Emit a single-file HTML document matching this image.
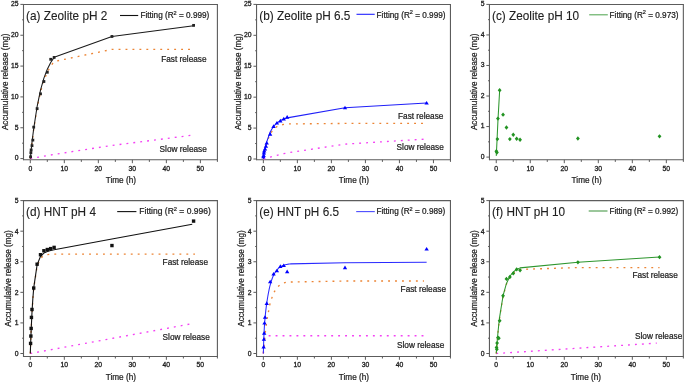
<!DOCTYPE html>
<html><head><meta charset="utf-8"><style>
html,body{margin:0;padding:0;background:#fff;}
svg{display:block;will-change:transform;}
text{font-family:"Liberation Sans", sans-serif;fill:#202020;stroke:#202020;stroke-width:0.22px;paint-order:stroke;}
</style></head><body>
<svg width="685" height="383" viewBox="0 0 685 383">
<path d="M23.5 4.4H217.4M23.5 159.8H217.4" stroke="#5c5c5c" stroke-width="1.05" fill="none"/>
<path d="M23.5 3.9V160.3M217.4 3.9V160.3" stroke="#5c5c5c" stroke-width="1.1" fill="none"/>
<path d="M20.4 158.6H23.5M20.4 127.76H23.5M20.4 96.92H23.5M20.4 66.08H23.5M20.4 35.24H23.5M20.4 4.4H23.5M22.1 143.18H23.5M22.1 112.34H23.5M22.1 81.5H23.5M22.1 50.66H23.5M22.1 19.82H23.5M30.3 159.8V163.2M64.32 159.8V163.2M98.34 159.8V163.2M132.36 159.8V163.2M166.37 159.8V163.2M200.39 159.8V163.2M47.31 159.8V161.9M81.33 159.8V161.9M115.35 159.8V161.9M149.36 159.8V161.9M183.38 159.8V161.9M217.4 159.8V161.9" stroke="#5c5c5c" stroke-width="1" fill="none"/>
<text x="18.5" y="160.45" font-size="6.8" text-anchor="end" style="stroke-width:0.3px">0</text>
<text x="18.5" y="129.61" font-size="6.8" text-anchor="end" style="stroke-width:0.3px">5</text>
<text x="18.5" y="98.77" font-size="6.8" text-anchor="end" style="stroke-width:0.3px">10</text>
<text x="18.5" y="67.93" font-size="6.8" text-anchor="end" style="stroke-width:0.3px">15</text>
<text x="18.5" y="37.09" font-size="6.8" text-anchor="end" style="stroke-width:0.3px">20</text>
<text x="18.5" y="6.25" font-size="6.8" text-anchor="end" style="stroke-width:0.3px">25</text>
<text x="30.3" y="170.6" font-size="6.8" text-anchor="middle" style="stroke-width:0.3px">0</text>
<text x="64.32" y="170.6" font-size="6.8" text-anchor="middle" style="stroke-width:0.3px">10</text>
<text x="98.34" y="170.6" font-size="6.8" text-anchor="middle" style="stroke-width:0.3px">20</text>
<text x="132.36" y="170.6" font-size="6.8" text-anchor="middle" style="stroke-width:0.3px">30</text>
<text x="166.37" y="170.6" font-size="6.8" text-anchor="middle" style="stroke-width:0.3px">40</text>
<text x="200.39" y="170.6" font-size="6.8" text-anchor="middle" style="stroke-width:0.3px">50</text>
<text x="120.85" y="183" font-size="8.2" text-anchor="middle">Time (h)</text>
<text transform="translate(8 81.8) rotate(-90)" font-size="8.35" text-anchor="middle" textLength="96.6" lengthAdjust="spacingAndGlyphs">Accumulative release (mg)</text>
<path d="M30.3 158.6 L30.59 158.55 L30.87 158.5 L31.15 158.45 L32 158.29 L32.85 158.14 L33.71 157.99 L37.11 157.38 L40.51 156.78 L43.91 156.18 L47.31 155.59 L50.71 155.01 L54.12 154.43 L111.95 145.44 L190.87 135.39" stroke="#f440f4" stroke-width="1.35" fill="none" stroke-linejoin="round" stroke-dasharray="1.9 5.05"/>
<path d="M30.3 158.6 L30.59 155.8 L30.87 153.03 L31.15 150.37 L32 142.77 L32.85 135.73 L33.71 129.23 L37.11 107.75 L40.51 92.04 L43.91 80.55 L47.31 72.16 L50.71 66.01 L54.12 61.52 L111.95 49.36 L190.87 49.3" stroke="#ec8434" stroke-width="1.35" fill="none" stroke-linejoin="round" stroke-dasharray="1.9 5.05"/>
<path d="M30.3 158.6 L30.59 155.75 L30.87 152.93 L31.15 150.22 L32 142.46 L32.85 135.27 L33.71 128.61 L37.11 106.53 L40.51 90.22 L43.91 78.14 L47.31 69.15 L50.71 62.42 L54.12 57.35 L111.95 36.47 L193.59 25.68" stroke="#1a1a1a" stroke-width="1.05" fill="none" stroke-linejoin="round"/>
<rect x="29.19" y="155.35" width="2.8" height="2.8" fill="#222"/>
<rect x="29.47" y="151.34" width="2.8" height="2.8" fill="#222"/>
<rect x="29.75" y="148.56" width="2.8" height="2.8" fill="#222"/>
<rect x="30.6" y="144.25" width="2.8" height="2.8" fill="#222"/>
<rect x="31.45" y="138.7" width="2.8" height="2.8" fill="#222"/>
<rect x="32.31" y="125.74" width="2.8" height="2.8" fill="#222"/>
<rect x="35.71" y="107.24" width="2.8" height="2.8" fill="#222"/>
<rect x="39.11" y="92.44" width="2.8" height="2.8" fill="#222"/>
<rect x="42.51" y="80.1" width="2.8" height="2.8" fill="#222"/>
<rect x="45.91" y="70.85" width="2.8" height="2.8" fill="#222"/>
<rect x="49.31" y="57.9" width="2.8" height="2.8" fill="#222"/>
<rect x="52.72" y="56.04" width="2.8" height="2.8" fill="#222"/>
<rect x="110.55" y="35.07" width="2.8" height="2.8" fill="#222"/>
<rect x="192.19" y="23.97" width="2.8" height="2.8" fill="#222"/>
<text transform="translate(26.1 19.6) scale(1 1.06)" font-size="11.8" style="stroke-width:0.1px">(a) Zeolite pH 2</text>
<path d="M120 15.5H138.2" stroke="#111" stroke-width="1.1"/>
<text x="140.4" y="17.9" font-size="8.2">Fitting (R<tspan font-size="5.58" dy="-3.3">2</tspan><tspan dy="3.3"> = 0.999)</tspan></text>
<text x="161.2" y="62.3" font-size="8.25">Fast release</text>
<text x="159.6" y="151.9" font-size="8.25">Slow release</text>
<path d="M256.55 4.4H450.45M256.55 159.8H450.45" stroke="#5c5c5c" stroke-width="1.05" fill="none"/>
<path d="M256.55 3.9V160.3M450.45 3.9V160.3" stroke="#5c5c5c" stroke-width="1.1" fill="none"/>
<path d="M253.45 159H256.55M253.45 128.08H256.55M253.45 97.16H256.55M253.45 66.24H256.55M253.45 35.32H256.55M253.45 4.4H256.55M255.15 143.54H256.55M255.15 112.62H256.55M255.15 81.7H256.55M255.15 50.78H256.55M255.15 19.86H256.55M263.35 159.8V163.2M297.37 159.8V163.2M331.39 159.8V163.2M365.41 159.8V163.2M399.42 159.8V163.2M433.44 159.8V163.2M280.36 159.8V161.9M314.38 159.8V161.9M348.4 159.8V161.9M382.41 159.8V161.9M416.43 159.8V161.9M450.45 159.8V161.9" stroke="#5c5c5c" stroke-width="1" fill="none"/>
<text x="251.55" y="160.85" font-size="6.8" text-anchor="end" style="stroke-width:0.3px">0</text>
<text x="251.55" y="129.93" font-size="6.8" text-anchor="end" style="stroke-width:0.3px">5</text>
<text x="251.55" y="99.01" font-size="6.8" text-anchor="end" style="stroke-width:0.3px">10</text>
<text x="251.55" y="68.09" font-size="6.8" text-anchor="end" style="stroke-width:0.3px">15</text>
<text x="251.55" y="37.17" font-size="6.8" text-anchor="end" style="stroke-width:0.3px">20</text>
<text x="251.55" y="6.25" font-size="6.8" text-anchor="end" style="stroke-width:0.3px">25</text>
<text x="263.35" y="170.6" font-size="6.8" text-anchor="middle" style="stroke-width:0.3px">0</text>
<text x="297.37" y="170.6" font-size="6.8" text-anchor="middle" style="stroke-width:0.3px">10</text>
<text x="331.39" y="170.6" font-size="6.8" text-anchor="middle" style="stroke-width:0.3px">20</text>
<text x="365.41" y="170.6" font-size="6.8" text-anchor="middle" style="stroke-width:0.3px">30</text>
<text x="399.42" y="170.6" font-size="6.8" text-anchor="middle" style="stroke-width:0.3px">40</text>
<text x="433.44" y="170.6" font-size="6.8" text-anchor="middle" style="stroke-width:0.3px">50</text>
<text x="353.9" y="183" font-size="8.2" text-anchor="middle">Time (h)</text>
<text transform="translate(241.05 81.8) rotate(-90)" font-size="8.35" text-anchor="middle" textLength="96.6" lengthAdjust="spacingAndGlyphs">Accumulative release (mg)</text>
<path d="M263.35 159 L263.64 158.92 L263.92 158.83 L264.2 158.75 L265.05 158.5 L265.9 158.25 L266.76 158.01 L270.16 157.06 L273.56 156.16 L276.96 155.29 L280.36 154.46 L283.76 153.67 L287.17 152.92 L345 144.13 L423.92 139.18" stroke="#f440f4" stroke-width="1.35" fill="none" stroke-linejoin="round" stroke-dasharray="1.9 5.05"/>
<path d="M263.35 159 L263.64 157.24 L263.92 155.56 L264.2 153.97 L265.05 149.65 L265.9 145.95 L266.76 142.76 L270.16 133.94 L273.56 129.15 L276.96 126.54 L280.36 125.13 L283.76 124.36 L287.17 123.94 L345 123.44 L423.92 123.44" stroke="#ec8434" stroke-width="1.35" fill="none" stroke-linejoin="round" stroke-dasharray="1.9 5.05"/>
<path d="M263.35 159 L263.64 157.16 L263.92 155.39 L264.2 153.72 L265.05 149.15 L265.9 145.2 L266.76 141.77 L270.16 132 L273.56 126.3 L276.96 122.83 L280.36 120.59 L283.76 119.03 L287.17 117.86 L345 107.67 L426.64 103.03" stroke="#2020f8" stroke-width="1.05" fill="none" stroke-linejoin="round"/>
<path d="M263.35 154.73L265.51 158.33L261.19 158.33Z" fill="#0000ff"/>
<path d="M263.64 153.31L265.8 156.91L261.48 156.91Z" fill="#0000ff"/>
<path d="M263.92 150.84L266.08 154.44L261.76 154.44Z" fill="#0000ff"/>
<path d="M264.2 148.98L266.36 152.58L262.04 152.58Z" fill="#0000ff"/>
<path d="M265.05 146.82L267.21 150.42L262.89 150.42Z" fill="#0000ff"/>
<path d="M265.9 144.03L268.06 147.63L263.74 147.63Z" fill="#0000ff"/>
<path d="M266.76 140.94L268.92 144.54L264.6 144.54Z" fill="#0000ff"/>
<path d="M270.16 132.1L272.32 135.7L268 135.7Z" fill="#0000ff"/>
<path d="M273.56 124.31L275.72 127.91L271.4 127.91Z" fill="#0000ff"/>
<path d="M276.96 120.91L279.12 124.51L274.8 124.51Z" fill="#0000ff"/>
<path d="M280.36 118.8L282.52 122.4L278.2 122.4Z" fill="#0000ff"/>
<path d="M283.76 116.82L285.92 120.42L281.6 120.42Z" fill="#0000ff"/>
<path d="M287.17 115.09L289.33 118.69L285.01 118.69Z" fill="#0000ff"/>
<path d="M345 105.69L347.16 109.29L342.84 109.29Z" fill="#0000ff"/>
<path d="M426.64 100.93L428.8 104.53L424.48 104.53Z" fill="#0000ff"/>
<text transform="translate(259.35 19.6) scale(1 1.06)" font-size="11.8" style="stroke-width:0.1px">(b) Zeolite pH 6.5</text>
<path d="M356.5 14.3H374.7" stroke="#2020ff" stroke-width="1.1"/>
<text x="376.6" y="17.6" font-size="8.2">Fitting (R<tspan font-size="5.58" dy="-3.3">2</tspan><tspan dy="3.3"> = 0.999)</tspan></text>
<text x="398" y="119.4" font-size="8.25">Fast release</text>
<text x="396.6" y="150" font-size="8.25">Slow release</text>
<path d="M489.45 4.4H683.35M489.45 159.8H683.35" stroke="#5c5c5c" stroke-width="1.05" fill="none"/>
<path d="M489.45 3.9V160.3M683.35 3.9V160.3" stroke="#5c5c5c" stroke-width="1.1" fill="none"/>
<path d="M486.35 157.1H489.45M486.35 126.56H489.45M486.35 96.02H489.45M486.35 65.48H489.45M486.35 34.94H489.45M486.35 4.4H489.45M488.05 141.83H489.45M488.05 111.29H489.45M488.05 80.75H489.45M488.05 50.21H489.45M488.05 19.67H489.45M496.25 159.8V163.2M530.27 159.8V163.2M564.29 159.8V163.2M598.31 159.8V163.2M632.32 159.8V163.2M666.34 159.8V163.2M513.26 159.8V161.9M547.28 159.8V161.9M581.3 159.8V161.9M615.31 159.8V161.9M649.33 159.8V161.9M683.35 159.8V161.9" stroke="#5c5c5c" stroke-width="1" fill="none"/>
<text x="484.45" y="158.95" font-size="6.8" text-anchor="end" style="stroke-width:0.3px">0</text>
<text x="484.45" y="128.41" font-size="6.8" text-anchor="end" style="stroke-width:0.3px">1</text>
<text x="484.45" y="97.87" font-size="6.8" text-anchor="end" style="stroke-width:0.3px">2</text>
<text x="484.45" y="67.33" font-size="6.8" text-anchor="end" style="stroke-width:0.3px">3</text>
<text x="484.45" y="36.79" font-size="6.8" text-anchor="end" style="stroke-width:0.3px">4</text>
<text x="484.45" y="6.25" font-size="6.8" text-anchor="end" style="stroke-width:0.3px">5</text>
<text x="496.25" y="170.6" font-size="6.8" text-anchor="middle" style="stroke-width:0.3px">0</text>
<text x="530.27" y="170.6" font-size="6.8" text-anchor="middle" style="stroke-width:0.3px">10</text>
<text x="564.29" y="170.6" font-size="6.8" text-anchor="middle" style="stroke-width:0.3px">20</text>
<text x="598.31" y="170.6" font-size="6.8" text-anchor="middle" style="stroke-width:0.3px">30</text>
<text x="632.32" y="170.6" font-size="6.8" text-anchor="middle" style="stroke-width:0.3px">40</text>
<text x="666.34" y="170.6" font-size="6.8" text-anchor="middle" style="stroke-width:0.3px">50</text>
<text x="586.7" y="183" font-size="8.2" text-anchor="middle">Time (h)</text>
<text transform="translate(476.85 81.8) rotate(-90)" font-size="8.35" text-anchor="middle" textLength="96.6" lengthAdjust="spacingAndGlyphs">Accumulative release (mg)</text>
<path d="M496.25 155.88 L496.54 150.38 L497.1 138.78 L497.95 120.45 L499.66 90.22" stroke="#2e962e" stroke-width="1.05" fill="none" stroke-linejoin="round"/>
<path d="M496.36 149.11L498.26 151.3L496.36 153.48L494.46 151.3Z" fill="#229322"/>
<path d="M496.93 150.33L498.83 152.52L496.93 154.7L495.03 152.52Z" fill="#229322"/>
<path d="M497.38 136.9L499.28 139.08L497.38 141.27L495.48 139.08Z" fill="#229322"/>
<path d="M497.95 116.43L499.85 118.62L497.95 120.8L496.05 118.62Z" fill="#229322"/>
<path d="M499.66 88.03L501.56 90.22L499.66 92.4L497.76 90.22Z" fill="#229322"/>
<path d="M503.06 112.46L504.96 114.65L503.06 116.83L501.16 114.65Z" fill="#229322"/>
<path d="M506.46 125.29L508.36 127.48L506.46 129.66L504.56 127.48Z" fill="#229322"/>
<path d="M509.86 136.9L511.76 139.08L509.86 141.27L507.96 139.08Z" fill="#229322"/>
<path d="M513.26 132.62L515.16 134.81L513.26 136.99L511.36 134.81Z" fill="#229322"/>
<path d="M516.66 136.59L518.56 138.78L516.66 140.96L514.76 138.78Z" fill="#229322"/>
<path d="M520.07 137.51L521.97 139.69L520.07 141.88L518.17 139.69Z" fill="#229322"/>
<path d="M577.9 136.29L579.8 138.47L577.9 140.66L576 138.47Z" fill="#229322"/>
<path d="M659.54 134.15L661.44 136.33L659.54 138.52L657.64 136.33Z" fill="#229322"/>
<text transform="translate(492.05 19.6) scale(1 1.06)" font-size="11.8" style="stroke-width:0.1px">(c) Zeolite pH 10</text>
<path d="M589.2 14.8H607.8" stroke="#5aaa5a" stroke-width="1.1"/>
<text x="609.6" y="17.6" font-size="8.2">Fitting (R<tspan font-size="5.58" dy="-3.3">2</tspan><tspan dy="3.3"> = 0.973)</tspan></text>
<path d="M23.5 200.6H217.4M23.5 356.4H217.4" stroke="#5c5c5c" stroke-width="1.05" fill="none"/>
<path d="M23.5 200.1V356.9M217.4 200.1V356.9" stroke="#5c5c5c" stroke-width="1.1" fill="none"/>
<path d="M20.4 353.5H23.5M20.4 322.92H23.5M20.4 292.34H23.5M20.4 261.76H23.5M20.4 231.18H23.5M20.4 200.6H23.5M22.1 338.21H23.5M22.1 307.63H23.5M22.1 277.05H23.5M22.1 246.47H23.5M22.1 215.89H23.5M30.3 356.4V359.8M64.32 356.4V359.8M98.34 356.4V359.8M132.36 356.4V359.8M166.37 356.4V359.8M200.39 356.4V359.8M47.31 356.4V358.5M81.33 356.4V358.5M115.35 356.4V358.5M149.36 356.4V358.5M183.38 356.4V358.5M217.4 356.4V358.5" stroke="#5c5c5c" stroke-width="1" fill="none"/>
<text x="18.5" y="355.9" font-size="6.8" text-anchor="end" style="stroke-width:0.3px">0</text>
<text x="18.5" y="325.32" font-size="6.8" text-anchor="end" style="stroke-width:0.3px">1</text>
<text x="18.5" y="294.74" font-size="6.8" text-anchor="end" style="stroke-width:0.3px">2</text>
<text x="18.5" y="264.16" font-size="6.8" text-anchor="end" style="stroke-width:0.3px">3</text>
<text x="18.5" y="233.58" font-size="6.8" text-anchor="end" style="stroke-width:0.3px">4</text>
<text x="18.5" y="203" font-size="6.8" text-anchor="end" style="stroke-width:0.3px">5</text>
<text x="30.3" y="367.2" font-size="6.8" text-anchor="middle" style="stroke-width:0.3px">0</text>
<text x="64.32" y="367.2" font-size="6.8" text-anchor="middle" style="stroke-width:0.3px">10</text>
<text x="98.34" y="367.2" font-size="6.8" text-anchor="middle" style="stroke-width:0.3px">20</text>
<text x="132.36" y="367.2" font-size="6.8" text-anchor="middle" style="stroke-width:0.3px">30</text>
<text x="166.37" y="367.2" font-size="6.8" text-anchor="middle" style="stroke-width:0.3px">40</text>
<text x="200.39" y="367.2" font-size="6.8" text-anchor="middle" style="stroke-width:0.3px">50</text>
<text x="120.85" y="379.6" font-size="8.2" text-anchor="middle">Time (h)</text>
<text transform="translate(10.9 278.5) rotate(-90)" font-size="8.35" text-anchor="middle" textLength="96.6" lengthAdjust="spacingAndGlyphs">Accumulative release (mg)</text>
<path d="M30.3 353.5 L30.59 353.45 L30.87 353.4 L31.15 353.34 L32 353.19 L32.85 353.03 L33.71 352.87 L37.11 352.25 L40.51 351.62 L43.91 350.99 L47.31 350.37 L50.71 349.74 L54.12 349.11 L111.95 338.45 L190.87 323.91" stroke="#f440f4" stroke-width="1.35" fill="none" stroke-linejoin="round" stroke-dasharray="1.9 5.05"/>
<path d="M30.3 353.5 L30.59 345.13 L30.87 337.38 L31.15 330.36 L32 312.61 L32.85 299 L33.71 288.55 L37.11 266.04 L40.51 258.25 L43.91 255.55 L47.31 254.61 L50.71 254.29 L54.12 254.17 L111.95 254.12 L194.95 254.12" stroke="#ec8434" stroke-width="1.35" fill="none" stroke-linejoin="round" stroke-dasharray="1.9 5.05"/>
<path d="M30.3 353.5 L30.59 345.08 L30.87 337.27 L31.15 330.21 L32 312.3 L32.85 298.53 L33.71 287.92 L37.11 264.79 L40.51 256.37 L43.91 253.04 L47.31 251.48 L50.71 250.53 L54.12 249.79 L111.95 239.07 L192.23 224.28" stroke="#111" stroke-width="1.1" fill="none" stroke-linejoin="round"/>
<rect x="28.89" y="341.71" width="3.4" height="3.4" fill="#111"/>
<rect x="29.17" y="334.37" width="3.4" height="3.4" fill="#111"/>
<rect x="29.45" y="326.72" width="3.4" height="3.4" fill="#111"/>
<rect x="29.74" y="315.72" width="3.4" height="3.4" fill="#111"/>
<rect x="30.3" y="307.76" width="3.4" height="3.4" fill="#111"/>
<rect x="32.01" y="286.36" width="3.4" height="3.4" fill="#111"/>
<rect x="35.41" y="262.51" width="3.4" height="3.4" fill="#111"/>
<rect x="38.81" y="253.03" width="3.4" height="3.4" fill="#111"/>
<rect x="42.21" y="249.05" width="3.4" height="3.4" fill="#111"/>
<rect x="45.61" y="247.83" width="3.4" height="3.4" fill="#111"/>
<rect x="49.01" y="246.91" width="3.4" height="3.4" fill="#111"/>
<rect x="52.42" y="245.69" width="3.4" height="3.4" fill="#111"/>
<rect x="110.25" y="243.85" width="3.4" height="3.4" fill="#111"/>
<rect x="191.89" y="219.39" width="3.4" height="3.4" fill="#111"/>
<text transform="translate(26.1 216.3) scale(1 1.06)" font-size="11.8" style="stroke-width:0.1px">(d) HNT pH 4</text>
<path d="M117.2 211.6H136.4" stroke="#111" stroke-width="1.1"/>
<text x="139.3" y="214.3" font-size="8.5">Fitting (R<tspan font-size="5.78" dy="-3.3">2</tspan><tspan dy="3.3"> = 0.996)</tspan></text>
<text x="162.6" y="265.2" font-size="8.25">Fast release</text>
<text x="162.6" y="339.7" font-size="8.25">Slow release</text>
<path d="M256.55 200.6H450.45M256.55 356.4H450.45" stroke="#5c5c5c" stroke-width="1.05" fill="none"/>
<path d="M256.55 200.1V356.9M450.45 200.1V356.9" stroke="#5c5c5c" stroke-width="1.1" fill="none"/>
<path d="M253.45 353.5H256.55M253.45 322.92H256.55M253.45 292.34H256.55M253.45 261.76H256.55M253.45 231.18H256.55M253.45 200.6H256.55M255.15 338.21H256.55M255.15 307.63H256.55M255.15 277.05H256.55M255.15 246.47H256.55M255.15 215.89H256.55M263.35 356.4V359.8M297.37 356.4V359.8M331.39 356.4V359.8M365.41 356.4V359.8M399.42 356.4V359.8M433.44 356.4V359.8M280.36 356.4V358.5M314.38 356.4V358.5M348.4 356.4V358.5M382.41 356.4V358.5M416.43 356.4V358.5M450.45 356.4V358.5" stroke="#5c5c5c" stroke-width="1" fill="none"/>
<text x="251.55" y="355.9" font-size="6.8" text-anchor="end" style="stroke-width:0.3px">0</text>
<text x="251.55" y="325.32" font-size="6.8" text-anchor="end" style="stroke-width:0.3px">1</text>
<text x="251.55" y="294.74" font-size="6.8" text-anchor="end" style="stroke-width:0.3px">2</text>
<text x="251.55" y="264.16" font-size="6.8" text-anchor="end" style="stroke-width:0.3px">3</text>
<text x="251.55" y="233.58" font-size="6.8" text-anchor="end" style="stroke-width:0.3px">4</text>
<text x="251.55" y="203" font-size="6.8" text-anchor="end" style="stroke-width:0.3px">5</text>
<text x="263.35" y="367.2" font-size="6.8" text-anchor="middle" style="stroke-width:0.3px">0</text>
<text x="297.37" y="367.2" font-size="6.8" text-anchor="middle" style="stroke-width:0.3px">10</text>
<text x="331.39" y="367.2" font-size="6.8" text-anchor="middle" style="stroke-width:0.3px">20</text>
<text x="365.41" y="367.2" font-size="6.8" text-anchor="middle" style="stroke-width:0.3px">30</text>
<text x="399.42" y="367.2" font-size="6.8" text-anchor="middle" style="stroke-width:0.3px">40</text>
<text x="433.44" y="367.2" font-size="6.8" text-anchor="middle" style="stroke-width:0.3px">50</text>
<text x="353.9" y="379.6" font-size="8.2" text-anchor="middle">Time (h)</text>
<text transform="translate(243.95 278.5) rotate(-90)" font-size="8.35" text-anchor="middle" textLength="96.6" lengthAdjust="spacingAndGlyphs">Accumulative release (mg)</text>
<path d="M263.35 353.5 L263.64 346.54 L263.92 342.28 L264.2 339.72 L265.05 336.65 L265.9 335.96 L266.76 335.81 L270.16 335.76 L273.56 335.76 L276.96 335.76 L280.36 335.76 L283.76 335.76 L287.17 335.76 L345 335.76 L423.92 335.76" stroke="#f440f4" stroke-width="1.35" fill="none" stroke-linejoin="round" stroke-dasharray="1.9 5.05"/>
<path d="M263.35 353.5 L263.64 349.98 L263.92 346.59 L264.2 343.4 L265.05 334.72 L265.9 327.24 L266.76 320.8 L270.16 302.85 L273.56 293.01 L276.96 287.6 L280.36 284.63 L283.76 283.01 L287.17 282.11 L345 281.03 L423.92 281.03" stroke="#ec8434" stroke-width="1.35" fill="none" stroke-linejoin="round" stroke-dasharray="1.9 5.05"/>
<path d="M263.35 353.5 L263.69 341.28 L264.03 332.91 L264.37 326.76 L264.71 321.91 L265.05 317.86 L265.39 314.34 L265.73 311.17 L266.07 308.28 L266.42 305.6 L266.76 303.11 L267.1 300.77 L267.44 298.58 L267.78 296.52 L268.12 294.58 L268.46 292.76 L268.8 291.04 L269.14 289.42 L269.48 287.9 L269.82 286.47 L270.16 285.12 L270.5 283.85 L270.84 282.65 L271.18 281.52 L271.52 280.46 L271.86 279.46 L272.2 278.52 L272.54 277.63 L272.88 276.8 L273.22 276.01 L273.56 275.27 L273.9 274.57 L274.24 273.91 L274.58 273.3 L274.92 272.71 L275.26 272.16 L275.6 271.65 L275.94 271.16 L276.28 270.7 L276.62 270.27 L276.96 269.86 L277.3 269.48 L277.64 269.12 L277.98 268.78 L278.32 268.46 L278.66 268.16 L279 267.88 L279.34 267.61 L279.68 267.36 L280.02 267.12 L280.36 266.9 L280.7 266.69 L281.04 266.49 L281.38 266.3 L281.72 266.13 L282.06 265.96 L282.4 265.81 L282.74 265.66 L283.08 265.52 L283.42 265.39 L283.76 265.27 L284.1 265.15 L284.44 265.05 L284.78 264.94 L285.12 264.85 L285.46 264.76 L285.81 264.67 L286.15 264.59 L286.49 264.51 L286.83 264.44 L287.17 264.38 L287.51 264.31 L287.85 264.25 L288.19 264.2 L288.53 264.14 L288.87 264.09 L289.21 264.05 L289.55 264 L289.89 263.96 L290.23 263.92 L290.57 263.89 L345 262.83 L426.64 262.22" stroke="#2a2aff" stroke-width="1.05" fill="none" stroke-linejoin="round"/>
<path d="M263.64 344.79L265.8 348.39L261.48 348.39Z" fill="#0000ff"/>
<path d="M263.92 337.15L266.08 340.75L261.76 340.75Z" fill="#0000ff"/>
<path d="M264.2 331.03L266.36 334.63L262.04 334.63Z" fill="#0000ff"/>
<path d="M264.49 320.94L266.65 324.54L262.33 324.54Z" fill="#0000ff"/>
<path d="M265.05 315.13L267.21 318.73L262.89 318.73Z" fill="#0000ff"/>
<path d="M266.76 301.37L268.92 304.97L264.6 304.97Z" fill="#0000ff"/>
<path d="M270.16 279.66L272.32 283.26L268 283.26Z" fill="#0000ff"/>
<path d="M273.56 272.01L275.72 275.61L271.4 275.61Z" fill="#0000ff"/>
<path d="M276.96 268.65L279.12 272.25L274.8 272.25Z" fill="#0000ff"/>
<path d="M280.36 264.37L282.52 267.97L278.2 267.97Z" fill="#0000ff"/>
<path d="M283.76 263.45L285.92 267.05L281.6 267.05Z" fill="#0000ff"/>
<path d="M287.17 269.57L289.33 273.17L285.01 273.17Z" fill="#0000ff"/>
<path d="M345 265.59L347.16 269.19L342.84 269.19Z" fill="#0000ff"/>
<path d="M426.64 246.94L428.8 250.54L424.48 250.54Z" fill="#0000ff"/>
<text transform="translate(259.35 216.3) scale(1 1.06)" font-size="11.8" style="stroke-width:0.1px">(e) HNT pH 6.5</text>
<path d="M356.2 211.6H374.8" stroke="#4a4aff" stroke-width="1.1"/>
<text x="376.4" y="214.2" font-size="8.2">Fitting (R<tspan font-size="5.58" dy="-3.3">2</tspan><tspan dy="3.3"> = 0.989)</tspan></text>
<text x="400.6" y="291.6" font-size="8.25">Fast release</text>
<text x="397" y="348" font-size="8.25">Slow release</text>
<path d="M489.45 200.6H683.35M489.45 356.4H683.35" stroke="#5c5c5c" stroke-width="1.05" fill="none"/>
<path d="M489.45 200.1V356.9M683.35 200.1V356.9" stroke="#5c5c5c" stroke-width="1.1" fill="none"/>
<path d="M486.35 353.5H489.45M486.35 322.92H489.45M486.35 292.34H489.45M486.35 261.76H489.45M486.35 231.18H489.45M486.35 200.6H489.45M488.05 338.21H489.45M488.05 307.63H489.45M488.05 277.05H489.45M488.05 246.47H489.45M488.05 215.89H489.45M496.25 356.4V359.8M530.27 356.4V359.8M564.29 356.4V359.8M598.31 356.4V359.8M632.32 356.4V359.8M666.34 356.4V359.8M513.26 356.4V358.5M547.28 356.4V358.5M581.3 356.4V358.5M615.31 356.4V358.5M649.33 356.4V358.5M683.35 356.4V358.5" stroke="#5c5c5c" stroke-width="1" fill="none"/>
<text x="484.45" y="355.9" font-size="6.8" text-anchor="end" style="stroke-width:0.3px">0</text>
<text x="484.45" y="325.32" font-size="6.8" text-anchor="end" style="stroke-width:0.3px">1</text>
<text x="484.45" y="294.74" font-size="6.8" text-anchor="end" style="stroke-width:0.3px">2</text>
<text x="484.45" y="264.16" font-size="6.8" text-anchor="end" style="stroke-width:0.3px">3</text>
<text x="484.45" y="233.58" font-size="6.8" text-anchor="end" style="stroke-width:0.3px">4</text>
<text x="484.45" y="203" font-size="6.8" text-anchor="end" style="stroke-width:0.3px">5</text>
<text x="496.25" y="367.2" font-size="6.8" text-anchor="middle" style="stroke-width:0.3px">0</text>
<text x="530.27" y="367.2" font-size="6.8" text-anchor="middle" style="stroke-width:0.3px">10</text>
<text x="564.29" y="367.2" font-size="6.8" text-anchor="middle" style="stroke-width:0.3px">20</text>
<text x="598.31" y="367.2" font-size="6.8" text-anchor="middle" style="stroke-width:0.3px">30</text>
<text x="632.32" y="367.2" font-size="6.8" text-anchor="middle" style="stroke-width:0.3px">40</text>
<text x="666.34" y="367.2" font-size="6.8" text-anchor="middle" style="stroke-width:0.3px">50</text>
<text x="585.9" y="379.6" font-size="8.2" text-anchor="middle">Time (h)</text>
<text transform="translate(476.85 278.5) rotate(-90)" font-size="8.35" text-anchor="middle" textLength="96.6" lengthAdjust="spacingAndGlyphs">Accumulative release (mg)</text>
<path d="M496.25 353.5 L496.54 353.48 L496.82 353.46 L497.1 353.44 L497.95 353.39 L498.8 353.33 L499.66 353.28 L503.06 353.06 L506.46 352.84 L509.86 352.62 L513.26 352.4 L516.66 352.18 L520.07 351.96 L577.9 348.22 L656.82 343.11" stroke="#f440f4" stroke-width="1.35" fill="none" stroke-linejoin="round" stroke-dasharray="1.9 5.05"/>
<path d="M496.25 353.5 L496.54 349.67 L496.82 345.96 L497.1 342.46 L497.95 332.84 L498.8 324.46 L499.66 317.15 L503.06 296.17 L506.46 284.07 L509.86 277.09 L513.26 273.06 L516.66 270.74 L520.07 269.4 L577.9 267.57 L659.54 267.57" stroke="#ec8434" stroke-width="1.35" fill="none" stroke-linejoin="round" stroke-dasharray="1.9 5.05"/>
<path d="M496.25 353.5 L496.54 349.65 L496.82 345.92 L497.1 342.41 L497.95 332.73 L498.8 324.29 L499.66 316.93 L503.06 295.73 L506.46 283.41 L509.86 276.21 L513.26 271.96 L516.66 269.42 L520.07 267.86 L577.9 262.29 L659.54 257" stroke="#2e962e" stroke-width="1.05" fill="none" stroke-linejoin="round"/>
<path d="M496.54 345.2L498.44 347.38L496.54 349.57L494.64 347.38Z" fill="#229322"/>
<path d="M496.82 347.03L498.72 349.22L496.82 351.4L494.92 349.22Z" fill="#229322"/>
<path d="M497.1 340.92L499 343.1L497.1 345.29L495.2 343.1Z" fill="#229322"/>
<path d="M497.95 335.41L499.85 337.6L497.95 339.78L496.05 337.6Z" fill="#229322"/>
<path d="M498.8 336.02L500.7 338.21L498.8 340.39L496.9 338.21Z" fill="#229322"/>
<path d="M499.66 318.59L501.56 320.78L499.66 322.96L497.76 320.78Z" fill="#229322"/>
<path d="M503.06 293.52L504.96 295.7L503.06 297.89L501.16 295.7Z" fill="#229322"/>
<path d="M506.46 276.7L508.36 278.88L506.46 281.07L504.56 278.88Z" fill="#229322"/>
<path d="M509.86 274.87L511.76 277.05L509.86 279.24L507.96 277.05Z" fill="#229322"/>
<path d="M513.26 271.2L515.16 273.38L513.26 275.57L511.36 273.38Z" fill="#229322"/>
<path d="M516.66 267.22L518.56 269.4L516.66 271.59L514.76 269.4Z" fill="#229322"/>
<path d="M520.07 268.14L521.97 270.32L520.07 272.51L518.17 270.32Z" fill="#229322"/>
<path d="M577.9 260.19L579.8 262.37L577.9 264.56L576 262.37Z" fill="#229322"/>
<path d="M659.54 254.99L661.44 257.17L659.54 259.36L657.64 257.17Z" fill="#229322"/>
<text transform="translate(492.05 216.3) scale(1 1.06)" font-size="11.8" style="stroke-width:0.1px">(f) HNT pH 10</text>
<path d="M588.7 211H607.5" stroke="#4a9a4a" stroke-width="1.1"/>
<text x="609.4" y="214.1" font-size="8.2">Fitting (R<tspan font-size="5.58" dy="-3.3">2</tspan><tspan dy="3.3"> = 0.992)</tspan></text>
<text x="632.4" y="277.9" font-size="8.25">Fast release</text>
<text x="635" y="339" font-size="8.25">Slow release</text>
</svg>
</body></html>
